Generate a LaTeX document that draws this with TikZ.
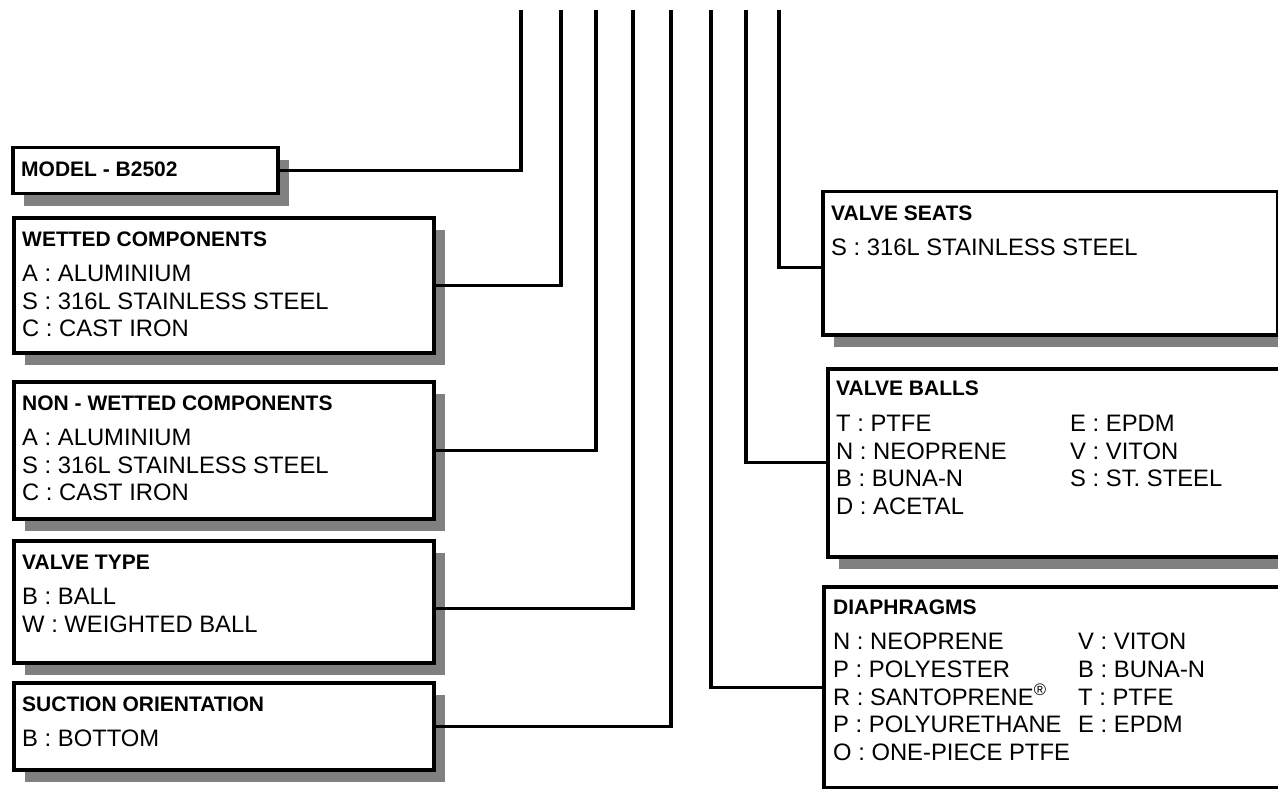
\documentclass[tikz,border=0pt]{standalone}
\usepackage{fontspec}
\setmainfont{Liberation Sans}
\usetikzlibrary{shadows}

\tikzset{
  codebox/.style={draw, line width=3.5pt, fill=white, inner sep=0pt, anchor=north west,
    drop shadow={shadow xshift=11pt, shadow yshift=-12pt, opacity=1, fill=black!50}},
  boxhead/.style={anchor=west, inner sep=0pt, font=\fontsize{21}{25}\selectfont\bfseries},
  boxitems/.style={anchor=north west, inner sep=0pt, align=left, font=\fontsize{23.8}{27.6}\selectfont},
  wire/.style={line width=3.2pt}
}

\begin{document}
\begin{tikzpicture}[x=1pt, y=-1pt]
    \clip (0,0) rectangle (1278,789);
    \fill[white] (0,0) rectangle (1278,789);

    % Model
    \node[codebox, minimum width=265pt, minimum height=46pt] (model) at (11,146) {};
    \node[boxhead] (modelhead) at ([shift={(10,23)}]model.north west) {MODEL - B2502};

    % Wetted components
    \node[codebox, minimum width=420pt, minimum height=135pt] (wet) at (12,216) {};
    \node[boxhead] (wethead) at ([shift={(10,23)}]wet.north west) {WETTED COMPONENTS};
    \node[boxitems] (wetitems) at ([shift={(10,49)}]wet.north west)
        {A : ALUMINIUM\\ S : 316L STAINLESS STEEL\\ C : CAST IRON};

    % Non-wetted components
    \node[codebox, minimum width=420pt, minimum height=137pt] (nonwet) at (12,380) {};
    \node[boxhead] (nonwethead) at ([shift={(10,23)}]nonwet.north west) {NON - WETTED COMPONENTS};
    \node[boxitems] (nonwetitems) at ([shift={(10,49)}]nonwet.north west)
        {A : ALUMINIUM\\ S : 316L STAINLESS STEEL\\ C : CAST IRON};

    % Valve type
    \node[codebox, minimum width=420pt, minimum height=122pt] (vtype) at (12,539) {};
    \node[boxhead] (vtypehead) at ([shift={(10,23)}]vtype.north west) {VALVE TYPE};
    \node[boxitems] (vtypeitems) at ([shift={(10,49)}]vtype.north west)
        {B : BALL\\ W : WEIGHTED BALL};

    % Suction orientation
    \node[codebox, minimum width=420pt, minimum height=87pt] (suction) at (12,681) {};
    \node[boxhead] (suctionhead) at ([shift={(10,23)}]suction.north west) {SUCTION ORIENTATION};
    \node[boxitems] (suctionitems) at ([shift={(10,49)}]suction.north west) {B : BOTTOM};

    % Valve seats
    \node[codebox, minimum width=455pt, minimum height=143pt] (seats) at (821,190) {};
    \node[boxhead] (seatshead) at ([shift={(10,23)}]seats.north west) {VALVE SEATS};
    \node[boxitems] (seatsitems) at ([shift={(10,49)}]seats.north west) {S : 316L STAINLESS STEEL};

    % Valve balls (two columns)
    \node[codebox, minimum width=480pt, minimum height=188pt] (balls) at (826,367) {};
    \node[boxhead] (ballshead) at ([shift={(10,21)}]balls.north west) {VALVE BALLS};
    \node[boxitems] (ballsleft) at ([shift={(10,48)}]balls.north west)
        {T : PTFE\\ N : NEOPRENE\\ B : BUNA-N\\ D : ACETAL};
    \node[boxitems] (ballsright) at ([shift={(244,48)}]balls.north west)
        {E : EPDM\\ V : VITON\\ S : ST. STEEL};

    % Diaphragms (two columns)
    \node[codebox, minimum width=480pt, minimum height=201pt] (diaph) at (822,585) {};
    \node[boxhead] (diaphhead) at ([shift={(11,22)}]diaph.north west) {DIAPHRAGMS};
    \node[boxitems] (diaphleft) at ([shift={(11,48)}]diaph.north west)
        {N : NEOPRENE\\ P : POLYESTER\\ R : SANTOPRENE\textsuperscript{\textregistered}\\ P : POLYURETHANE\\ O : ONE-PIECE PTFE};
    \node[boxitems] (diaphright) at ([shift={(256,48)}]diaph.north west)
        {V : VITON\\ B : BUNA-N\\ T : PTFE\\ E : EPDM};

    % Code positions along the top
    \coordinate (c1) at (521,10);
    \coordinate (c2) at (561,10);
    \coordinate (c3) at (596,10);
    \coordinate (c4) at (633,10);
    \coordinate (c5) at (671,10);
    \coordinate (c6) at (711,10);
    \coordinate (c7) at (746,10);
    \coordinate (c8) at (779,10);

    % Leader lines
    \draw[wire] (c1) |- (model.east);
    \draw[wire] (c2) |- (wet.east);
    \draw[wire] (c3) |- (nonwet.east);
    \draw[wire] (c4) |- ([yshift=-7pt]vtype.east);
    \draw[wire] (c5) |- (suction.east);
    \draw[wire] (c6) |- (diaph.west);
    \draw[wire] (c7) |- (balls.west);
    \draw[wire] (c8) |- ([yshift=-4pt]seats.west);
\end{tikzpicture}
\end{document}
